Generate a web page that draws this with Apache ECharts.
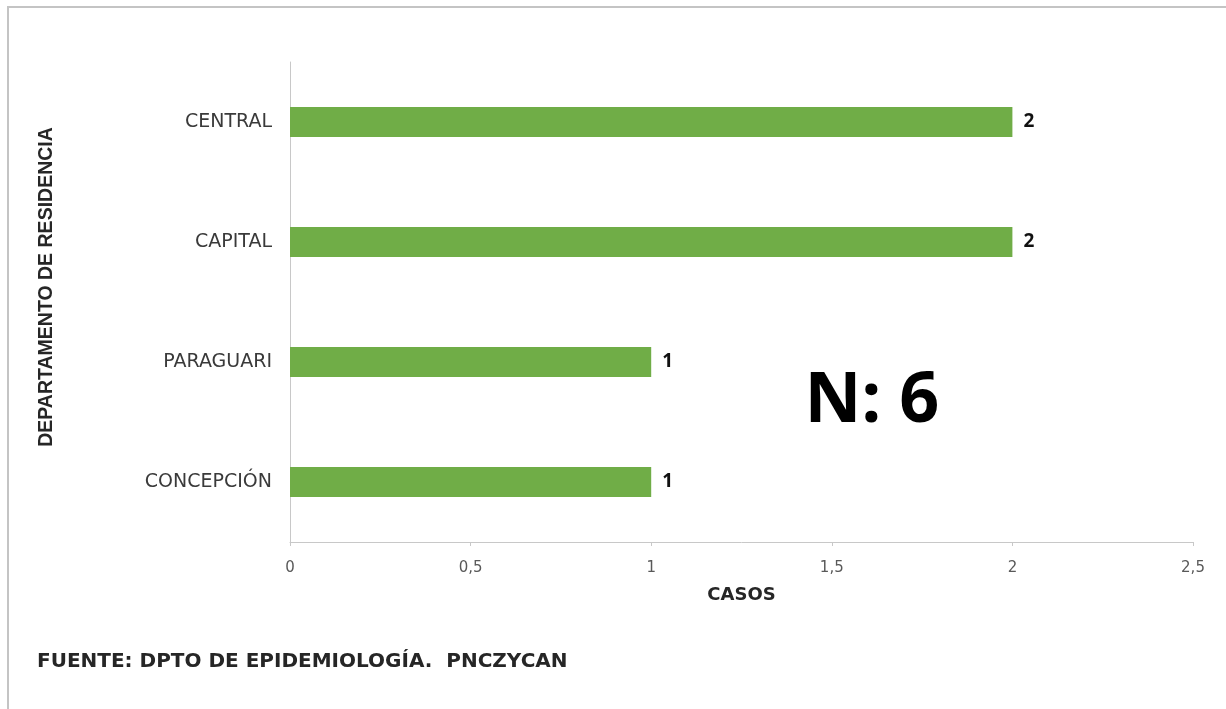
<!DOCTYPE html>
<html>
<head>
<meta charset="utf-8">
<script src="https://cdn.jsdelivr.net/npm/echarts@6/dist/echarts.min.js"></script>
<style>
  html, body { margin: 0; padding: 0; background: #ffffff; }
  #chart { width: 1226px; height: 709px; }
</style>
</head>
<body>
<div id="chart"></div>
<script>
// Data (bottom to top order of the category axis)
var categories = ['CONCEPCIÓN', 'PARAGUARI', 'CAPITAL', 'CENTRAL'];
var casos = [1, 1, 2, 2];
var xTicks = { min: 0, max: 2.5, interval: 0.5 };
var xAxisTitle = 'CASOS';
var yAxisTitle = 'DEPARTAMENTO DE RESIDENCIA';
var sourceText = 'FUENTE: DPTO DE EPIDEMIOLOGÍA.  PNCZYCAN';
var totalText = 'N: 6';

var chart = echarts.init(document.getElementById('chart'), null, { renderer: 'canvas' });

var option = {
  backgroundColor: '#ffffff',
  animation: false,
  grid: { left: 290, top: 62, width: 903, height: 480, containLabel: false },
  xAxis: {
    type: 'value',
    min: xTicks.min,
    max: xTicks.max,
    interval: xTicks.interval,
    name: xAxisTitle,
    nameLocation: 'middle',
    nameGap: 44,
    nameTextStyle: { fontFamily: 'DejaVu Sans', fontWeight: 'bold', fontSize: 18, color: '#262626' },
    axisLine: { show: true, lineStyle: { color: '#c8c8c8', width: 1 } },
    axisTick: { show: true, length: 4, lineStyle: { color: '#c8c8c8' } },
    splitLine: { show: false },
    axisLabel: {
      margin: 19,
      fontFamily: 'DejaVu Sans',
      fontSize: 15,
      color: '#595959',
      formatter: function (v) { return String(v).replace('.', ','); }
    }
  },
  yAxis: {
    type: 'category',
    data: categories,
    axisLine: { show: true, lineStyle: { color: '#c8c8c8', width: 1 } },
    axisTick: { show: false },
    splitLine: { show: false },
    axisLabel: {
      margin: 18,
      fontFamily: 'DejaVu Sans',
      fontSize: 19,
      color: '#3a3a3a'
    }
  },
  series: [{
    type: 'bar',
    data: casos,
    barWidth: 30,
    itemStyle: { color: '#70AD47' },
    label: {
      show: true,
      position: 'right',
      distance: 11,
      fontFamily: 'Noto Sans',
      fontWeight: 'bold',
      fontSize: 19,
      color: '#111111'
    }
  }],
  graphic: [
    {
      type: 'rect',
      silent: true,
      shape: { x: 8, y: 7, width: 1400, height: 900 },
      style: { fill: 'none', stroke: '#c4c4c4', lineWidth: 2 }
    },
    {
      type: 'text',
      silent: true,
      x: 47, y: 287,
      rotation: Math.PI / 2,
      style: {
        text: yAxisTitle,
        fontFamily: 'Liberation Sans',
        fontWeight: 'bold',
        fontSize: 19.5,
        fill: '#262626',
        textAlign: 'center',
        textVerticalAlign: 'middle'
      }
    },
    {
      type: 'text',
      silent: true,
      x: 37, y: 662,
      style: {
        text: sourceText,
        fontFamily: 'DejaVu Sans',
        fontWeight: 'bold',
        fontSize: 20,
        fill: '#262626',
        textAlign: 'left',
        textVerticalAlign: 'middle'
      }
    },
    {
      type: 'text',
      silent: true,
      x: 872, y: 402,
      style: {
        text: totalText,
        fontFamily: 'Noto Sans',
        fontWeight: 'bold',
        fontSize: 70,
        fill: '#000000',
        textAlign: 'center',
        textVerticalAlign: 'middle'
      }
    }
  ]
};

chart.setOption(option);
</script>
</body>
</html>
